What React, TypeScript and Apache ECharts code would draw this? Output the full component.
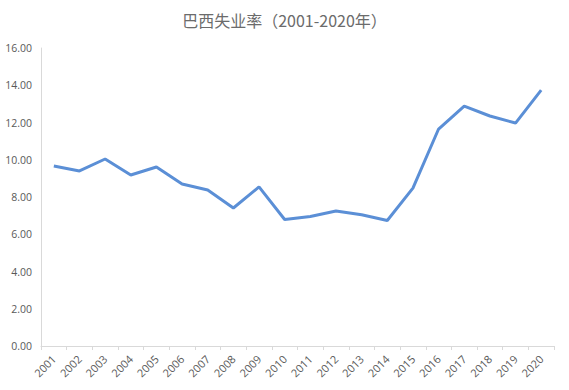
import React, { useEffect, useRef } from "react";
import * as echarts from "echarts";

const years = ["2001","2002","2003","2004","2005","2006","2007","2008","2009","2010","2011","2012","2013","2014","2015","2016","2017","2018","2019","2020"];
const unemployment = [9.66, 9.40, 10.04, 9.18, 9.61, 8.70, 8.38, 7.41, 8.54, 6.79, 6.95, 7.25, 7.05, 6.74, 8.48, 11.65, 12.88, 12.35, 11.97, 13.74];

export default function App() {
  const ref = useRef<HTMLDivElement>(null);
  useEffect(() => {
    if (!ref.current) return;
    const chart = echarts.init(ref.current, null, { renderer: "svg" });
    chart.setOption({
      animation: false,
      backgroundColor: "#ffffff",
      title: {
        text: "巴西失业率（2001-2020年）",
        left: "center",
        top: 7,
        textStyle: { fontFamily: "Noto Sans CJK SC", fontSize: 16, fontWeight: "normal", color: "#6b6b6b" },
      },
      grid: { left: 41, right: 15, top: 48, bottom: 44, containLabel: false },
      xAxis: {
        type: "category",
        data: years,
        boundaryGap: true,
        axisLine: { lineStyle: { color: "#d9d9d9" } },
        axisTick: { show: true, length: 4, lineStyle: { color: "#d9d9d9" } },
        axisLabel: { rotate: 45, fontSize: 11, color: "#595959", fontFamily: "Open Sans", margin: 11, interval: 0 },
      },
      yAxis: {
        type: "value",
        min: 0,
        max: 16,
        interval: 2,
        axisLine: { show: true, lineStyle: { color: "#d9d9d9" } },
        axisTick: { show: false },
        splitLine: { show: false },
        axisLabel: { fontSize: 10.5, color: "#595959", fontFamily: "Open Sans", margin: 9, formatter: (v: number) => v.toFixed(2) },
      },
      series: [
        {
          type: "line",
          data: unemployment,
          symbol: "none",
          lineStyle: { color: "#5B8FD6", width: 3 },
        },
      ],
    });
    return () => chart.dispose();
  }, []);
  return <div ref={ref} style={{ width: 569, height: 390, position: "absolute", left: 0, top: 0 }} />;
}
